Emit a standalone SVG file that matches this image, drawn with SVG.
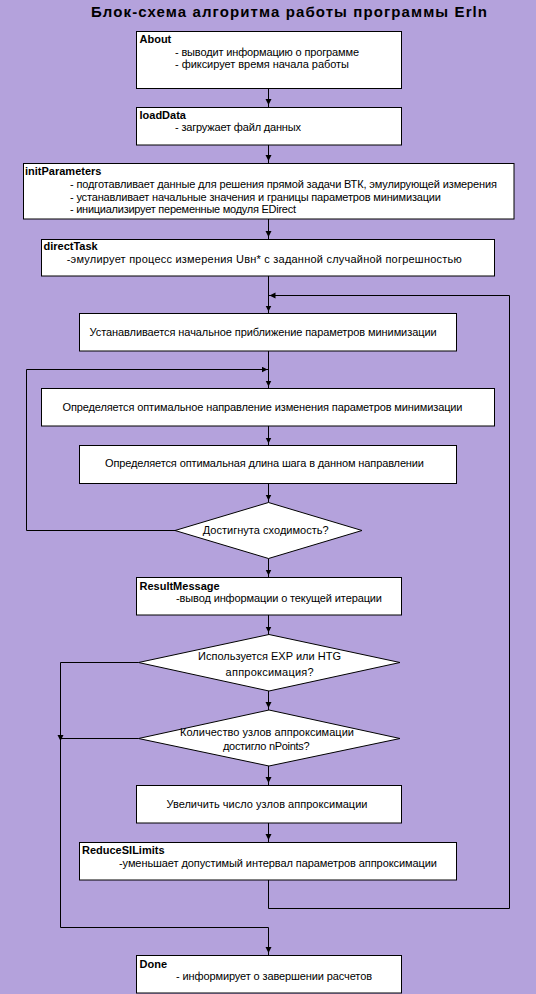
<svg xmlns="http://www.w3.org/2000/svg" width="536" height="994" viewBox="0 0 536 994">
<style>
text{font-family:"Liberation Sans",Arial,sans-serif;font-size:11px;fill:#000}
.b{font-weight:bold}
.t{font-weight:bold;font-size:15px}
rect,polygon.n{fill:#fff;stroke:#000;stroke-width:1}
.c{fill:none;stroke:#000;stroke-width:1}
</style>
<defs>
<marker id="ah" markerUnits="userSpaceOnUse" markerWidth="9" markerHeight="7" refX="8" refY="3" orient="auto" viewBox="0 0 9 7">
<path d="M0,0 L6,3 L0,6 z" fill="#000"/>
</marker>
<marker id="ah1" markerUnits="userSpaceOnUse" markerWidth="9" markerHeight="7" refX="7" refY="3" orient="auto" viewBox="0 0 9 7">
<path d="M0,0 L6,3 L0,6 z" fill="#000"/>
</marker>
</defs>
<rect x="0" y="0" width="536" height="994" style="fill:#B4A2DC;stroke:none"/>
<text class="t" x="289" y="17" text-anchor="middle" textLength="396">Блок-схема алгоритма работы программы Erln</text>

<g id="connectors">
<path class="c" d="M268.5,88 V107" marker-end="url(#ah)"/>
<path class="c" d="M268.5,145 V163" marker-end="url(#ah)"/>
<path class="c" d="M268.5,219 V239" marker-end="url(#ah)"/>
<path class="c" d="M268.5,276 V313.5" marker-end="url(#ah)"/>
<path class="c" d="M268.5,351 V388.5" marker-end="url(#ah)"/>
<path class="c" d="M268.5,426 V445.5" marker-end="url(#ah)"/>
<path class="c" d="M268.5,483.5 V502.5" marker-end="url(#ah)"/>
<path class="c" d="M268.5,558.5 V577.5" marker-end="url(#ah)"/>
<path class="c" d="M268.5,615 V634.5" marker-end="url(#ah)"/>
<path class="c" d="M268.5,691 V710" marker-end="url(#ah)"/>
<path class="c" d="M268.5,766 V785" marker-end="url(#ah)"/>
<path class="c" d="M268.5,823 V842" marker-end="url(#ah)"/>
<path class="c" d="M175,530.5 H26.5 V369.5 H268.5" marker-end="url(#ah1)"/>
<path class="c" d="M268.5,880 V908.5 H509.5 V295.5 H268.5" marker-end="url(#ah1)"/>
<path class="c" d="M138.5,662.5 H60.5 V742" marker-end="url(#ah1)"/>
<path class="c" d="M138.5,738.5 H60.5"/>
<path class="c" d="M60.5,741 V927.5 H268.5 V955" marker-end="url(#ah)"/>
</g>

<g id="about">
<rect x="136.5" y="31.5" width="265" height="57"/>
<text class="b" x="139.5" y="43">About</text>
<text x="175" y="55.5" textLength="184">- выводит информацию о программе</text>
<text x="175" y="68" textLength="174">- фиксирует время начала работы</text>
</g>
<g id="loadData">
<rect x="136.5" y="107.5" width="265" height="37.5"/>
<text class="b" x="139.5" y="118.5">loadData</text>
<text x="175" y="131" textLength="126">- загружает файл данных</text>
</g>
<g id="initParameters">
<rect x="23.5" y="163.5" width="490.5" height="55.5"/>
<text class="b" x="25" y="174.5">initParameters</text>
<text x="70" y="188" textLength="427">- подготавливает данные для решения прямой задачи ВТК, эмулирующей  измерения</text>
<text x="70" y="200.5" textLength="371">- устанавливает начальные значения и границы параметров  минимизации</text>
<text x="70" y="213" textLength="226">- инициализирует переменные модуля EDirect</text>
</g>
<g id="directTask">
<rect x="41.5" y="239.5" width="453" height="36.5"/>
<text class="b" x="43.5" y="250">directTask</text>
<text x="66.7" y="263" textLength="395">-эмулирует процесс измерения Uвн*  с заданной случайной погрешностью</text>
</g>
<g id="initApprox">
<rect x="79.5" y="313.5" width="377" height="37.5"/>
<text x="89.6" y="336" textLength="347">Устанавливается начальное приближение параметров минимизации</text>
</g>
<g id="direction">
<rect x="41.5" y="388.5" width="453" height="37.5"/>
<text x="62.5" y="410.5" textLength="400">Определяется оптимальное направление изменения параметров минимизации</text>
</g>
<g id="stepLength">
<rect x="79.5" y="445.5" width="377" height="38"/>
<text x="105" y="467" textLength="319">Определяется оптимальная длина шага в данном направлении</text>
</g>
<g id="converged">
<polygon class="n" points="268.5,502.5 362,530.5 268.5,558.5 175,530.5"/>
<text x="202.7" y="534" textLength="126">Достигнута сходимость?</text>
</g>
<g id="resultMessage">
<rect x="136.5" y="577.5" width="265" height="37.5"/>
<text class="b" x="139.5" y="589.5">ResultMessage</text>
<text x="176" y="602" textLength="206">-вывод информации о текущей итерации</text>
</g>
<g id="expHtg">
<polygon class="n" points="269,634.5 400,662.5 269,691 138.5,662.5"/>
<text x="198" y="659.5" textLength="143">Используется EXP или HTG</text>
<text x="225.6" y="675.5" textLength="88">аппроксимация?</text>
</g>
<g id="nPoints">
<polygon class="n" points="269,710 400,738.5 269,766 138.5,738.5"/>
<text x="180" y="735.5" textLength="174">Количество узлов аппроксимации</text>
<text x="223" y="750" textLength="86.5">достигло nPoints?</text>
</g>
<g id="increase">
<rect x="136.5" y="785.5" width="265" height="37.5"/>
<text x="166.5" y="807.5" textLength="201">Увеличить число узлов аппроксимации</text>
</g>
<g id="reduceSILimits">
<rect x="79.5" y="842.5" width="377" height="37.5"/>
<text class="b" x="82" y="854">ReduceSILimits</text>
<text x="119" y="867" textLength="318">-уменьшает допустимый интервал параметров аппроксимации</text>
</g>
<g id="done">
<rect x="136.5" y="955.5" width="265" height="37.5"/>
<text class="b" x="139.5" y="968">Done</text>
<text x="176" y="980" textLength="196">- информирует о завершении расчетов</text>
</g>
</svg>
